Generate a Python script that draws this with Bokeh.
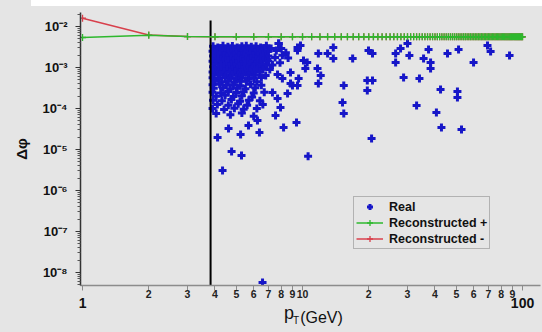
from bokeh.plotting import figure
from bokeh.models import (Range1d, FixedTicker, CustomJSTickFormatter, LogAxis,
                          Legend, LegendItem, GlobalInlineStyleSheet)
from bokeh.embed import file_html
from bokeh.resources import INLINE

# ---------------- data ----------------
pt_bins = [1, 2, 3, 4, 5, 6, 7, 8, 9, 10, 11, 12, 13, 14, 15, 16, 17, 18, 19, 20,
           21, 22, 23, 24, 25, 26, 27, 28, 29, 30, 31, 32, 33, 34, 35, 36, 37, 38, 39, 40,
           41, 42, 43, 44, 45, 46, 47, 48, 49, 50, 51, 52, 53, 54, 55, 56, 57, 58, 59, 60,
           61, 62, 63, 64, 65, 66, 67, 68, 69, 70, 71, 72, 73, 74, 75, 76, 77, 78, 79, 80,
           81, 82, 83, 84, 85, 86, 87, 88, 89, 90, 91, 92, 93, 94, 95, 96, 97, 98, 99, 100]

reco_plus = [5.4e-3, 6.1e-3, 5.7e-3, 5.6e-3, 5.6e-3, 5.6e-3, 5.6e-3, 5.6e-3, 5.6e-3, 5.6e-3,
             5.6e-3, 5.6e-3, 5.6e-3, 5.6e-3, 5.6e-3, 5.6e-3, 5.6e-3, 5.6e-3, 5.6e-3, 5.6e-3,
             5.6e-3, 5.6e-3, 5.6e-3, 5.6e-3, 5.6e-3, 5.6e-3, 5.6e-3, 5.6e-3, 5.6e-3, 5.6e-3,
             5.6e-3, 5.6e-3, 5.6e-3, 5.6e-3, 5.6e-3, 5.6e-3, 5.6e-3, 5.6e-3, 5.6e-3, 5.6e-3,
             5.6e-3, 5.6e-3, 5.6e-3, 5.6e-3, 5.6e-3, 5.6e-3, 5.6e-3, 5.6e-3, 5.6e-3, 5.6e-3,
             5.6e-3, 5.6e-3, 5.6e-3, 5.6e-3, 5.6e-3, 5.6e-3, 5.6e-3, 5.6e-3, 5.6e-3, 5.6e-3,
             5.6e-3, 5.6e-3, 5.6e-3, 5.6e-3, 5.6e-3, 5.6e-3, 5.6e-3, 5.6e-3, 5.6e-3, 5.6e-3,
             5.6e-3, 5.6e-3, 5.6e-3, 5.6e-3, 5.6e-3, 5.6e-3, 5.6e-3, 5.6e-3, 5.6e-3, 5.6e-3,
             5.6e-3, 5.6e-3, 5.6e-3, 5.6e-3, 5.6e-3, 5.6e-3, 5.6e-3, 5.6e-3, 5.6e-3, 5.6e-3,
             5.6e-3, 5.6e-3, 5.6e-3, 5.6e-3, 5.6e-3, 5.6e-3, 5.6e-3, 5.6e-3, 5.6e-3, 5.6e-3]

reco_minus = [1.6e-2, 6.2e-3, 5.7e-3, 5.6e-3, 5.6e-3, 5.6e-3, 5.6e-3, 5.6e-3, 5.6e-3, 5.6e-3,
              5.6e-3, 5.6e-3, 5.6e-3, 5.6e-3, 5.6e-3, 5.6e-3, 5.6e-3, 5.6e-3, 5.6e-3, 5.6e-3,
              5.6e-3, 5.6e-3, 5.6e-3, 5.6e-3, 5.6e-3, 5.6e-3, 5.6e-3, 5.6e-3, 5.6e-3, 5.6e-3,
              5.6e-3, 5.6e-3, 5.6e-3, 5.6e-3, 5.6e-3, 5.6e-3, 5.6e-3, 5.6e-3, 5.6e-3, 5.6e-3,
              5.6e-3, 5.6e-3, 5.6e-3, 5.6e-3, 5.6e-3, 5.6e-3, 5.6e-3, 5.6e-3, 5.6e-3, 5.6e-3,
              5.6e-3, 5.6e-3, 5.6e-3, 5.6e-3, 5.6e-3, 5.6e-3, 5.6e-3, 5.6e-3, 5.6e-3, 5.6e-3,
              5.6e-3, 5.6e-3, 5.6e-3, 5.6e-3, 5.6e-3, 5.6e-3, 5.6e-3, 5.6e-3, 5.6e-3, 5.6e-3,
              5.6e-3, 5.6e-3, 5.6e-3, 5.6e-3, 5.6e-3, 5.6e-3, 5.6e-3, 5.6e-3, 5.6e-3, 5.6e-3,
              5.6e-3, 5.6e-3, 5.6e-3, 5.6e-3, 5.6e-3, 5.6e-3, 5.6e-3, 5.6e-3, 5.6e-3, 5.6e-3,
              5.6e-3, 5.6e-3, 5.6e-3, 5.6e-3, 5.6e-3, 5.6e-3, 5.6e-3, 5.6e-3, 5.6e-3, 5.6e-3]

# "Real" points (pT in GeV, delta-phi), read row by row
real_pt = [
    # dense core
    3.92, 4.12, 4.35, 4.58, 4.80, 5.05, 5.30, 5.55, 5.85, 6.15, 6.45, 6.85, 7.8,
    4.0, 4.25, 4.48, 4.7, 4.95, 5.2, 5.45, 5.7, 6.0, 6.3, 6.65,
    3.9, 4.1, 4.33, 4.6, 4.85, 5.1, 5.35, 5.6, 5.9, 6.2, 6.55, 6.95,
    4.0, 4.22, 4.45, 4.72, 4.98, 5.25, 5.5, 5.78, 6.08, 6.4, 6.75,
    3.92, 4.15, 4.38, 4.62, 4.88, 5.15, 5.4, 5.68, 5.95, 6.3, 6.6, 7.0,
    4.02, 4.28, 4.52, 4.75, 5.0, 5.28, 5.55, 5.85, 6.15, 6.5, 6.9,
    3.9, 4.12, 4.35, 4.6, 4.85, 5.1, 5.38, 5.65, 5.95, 6.25, 6.6,
    4.0, 4.25, 4.5, 4.75, 5.0, 5.25, 5.5, 5.8, 6.1, 6.45, 6.85,
    3.92, 4.15, 4.4, 4.65, 4.9, 5.15, 5.42, 5.7, 6.0, 6.35, 6.7,
    4.0, 4.28, 4.55, 4.8, 5.05, 5.3, 5.6, 5.9, 6.2, 6.6,
    3.9, 4.12, 4.4, 4.68, 4.95, 5.2, 5.5, 5.8, 6.4,
    3.95, 4.22, 4.5, 4.8, 5.1, 5.35, 5.7, 6.1, 6.8,
    3.9, 4.15, 4.45, 4.7, 5.0, 5.3, 5.65, 6.0, 6.5,
    4.0, 4.3, 4.6, 4.9, 5.25, 5.55, 6.2,
    3.9, 4.2, 4.5, 4.85, 5.2, 5.8, 6.5,
    3.95, 4.35, 4.7, 5.05, 5.5, 6.1,
    3.9, 4.25, 4.6, 5.0, 5.4, 6.0, 6.7,
    4.05, 4.45, 4.85, 5.3, 5.9,
    3.92, 4.3, 4.75, 5.2, 5.7, 6.4,
    4.1, 4.6, 5.1, 5.6, 6.6,
    3.9, 4.4, 4.9, 5.4, 6.2,
    4.05, 4.7, 5.3, 6.0, 6.24,
    # right edge of the core
    7.2, 7.6, 8.0, 8.4, 7.0, 7.5, 8.1, 7.3, 7.9, 8.6, 7.1, 7.7,
    # scattered, 7-21 GeV
    7.78, 9.49, 11.8, 13.0, 13.8, 13.8, 16.9, 19.95, 20.8, 10.5, 10.3, 11.7, 12.1,
    11.8, 9.49, 8.82, 8.55, 7.7, 7.94, 15.4, 19.7, 20.8, 19.7, 15.2, 15.4,
    9.79, 9.49, 10.1, 9.0, 9.6, 8.1, 8.82, 7.3,
    # scattered, 25-90 GeV
    26.5, 26.5, 27.9, 30.0, 30.6, 35.5, 37.4, 38.2, 38.2, 45.6, 51.2, 59.9,
    69.3, 71.6, 87.3, 28.8, 34.0, 42.4, 50.6, 50.6, 33.0, 40.6, 42.8, 52.8,
    # low tail
    4.11, 4.76, 5.28, 4.33, 10.6, 20.6, 5.23, 6.37, 8.2, 9.39, 7.54, 4.61,
    6.58, 5.68,
]
real_dphi = [
    3.3e-3, 3.1e-3, 3.4e-3, 3.2e-3, 3.35e-3, 3.1e-3, 3.3e-3, 3.4e-3, 3.2e-3, 3.3e-3, 3.1e-3, 3.4e-3, 3.85e-3,
    2.85e-3, 2.95e-3, 2.8e-3, 2.9e-3, 2.8e-3, 2.95e-3, 2.85e-3, 2.75e-3, 2.9e-3, 2.8e-3, 2.95e-3,
    2.5e-3, 2.6e-3, 2.45e-3, 2.55e-3, 2.6e-3, 2.45e-3, 2.55e-3, 2.6e-3, 2.4e-3, 2.6e-3, 2.5e-3, 2.45e-3,
    2.2e-3, 2.25e-3, 2.15e-3, 2.2e-3, 2.3e-3, 2.15e-3, 2.25e-3, 2.2e-3, 2.3e-3, 2.15e-3, 2.2e-3,
    1.9e-3, 1.85e-3, 1.95e-3, 1.9e-3, 1.85e-3, 1.95e-3, 1.9e-3, 1.8e-3, 1.95e-3, 1.9e-3, 1.85e-3, 1.9e-3,
    1.65e-3, 1.6e-3, 1.7e-3, 1.62e-3, 1.68e-3, 1.6e-3, 1.7e-3, 1.65e-3, 1.6e-3, 1.7e-3, 1.62e-3,
    1.42e-3, 1.45e-3, 1.4e-3, 1.46e-3, 1.4e-3, 1.44e-3, 1.38e-3, 1.45e-3, 1.42e-3, 1.4e-3, 1.45e-3,
    1.22e-3, 1.2e-3, 1.25e-3, 1.2e-3, 1.24e-3, 1.18e-3, 1.22e-3, 1.25e-3, 1.2e-3, 1.22e-3, 1.18e-3,
    1.05e-3, 1.02e-3, 1.06e-3, 1.04e-3, 1.0e-3, 1.06e-3, 1.03e-3, 1.0e-3, 1.05e-3, 1.02e-3, 1.06e-3,
    9.0e-4, 9.2e-4, 8.9e-4, 9.1e-4, 9.0e-4, 8.8e-4, 9.2e-4, 9.0e-4, 8.9e-4, 9.1e-4,
    7.8e-4, 7.6e-4, 7.9e-4, 7.7e-4, 7.9e-4, 7.5e-4, 7.8e-4, 7.6e-4, 7.8e-4,
    6.6e-4, 6.8e-4, 6.5e-4, 6.7e-4, 6.4e-4, 6.8e-4, 6.5e-4, 6.6e-4, 6.4e-4,
    5.6e-4, 5.4e-4, 5.7e-4, 5.5e-4, 5.4e-4, 5.6e-4, 5.3e-4, 5.5e-4, 5.7e-4,
    4.6e-4, 4.5e-4, 4.7e-4, 4.4e-4, 4.6e-4, 4.7e-4, 4.5e-4,
    3.8e-4, 3.9e-4, 3.7e-4, 3.8e-4, 3.6e-4, 3.9e-4, 3.7e-4,
    3.1e-4, 3.2e-4, 3.0e-4, 3.15e-4, 3.05e-4, 3.2e-4,
    2.5e-4, 2.4e-4, 2.6e-4, 2.45e-4, 2.55e-4, 2.4e-4, 2.5e-4,
    2.0e-4, 2.1e-4, 1.95e-4, 2.05e-4, 1.9e-4,
    1.6e-4, 1.55e-4, 1.65e-4, 1.5e-4, 1.6e-4, 1.55e-4,
    1.25e-4, 1.2e-4, 1.3e-4, 1.2e-4, 1.25e-4,
    1.0e-4, 9.5e-5, 1.02e-4, 9.6e-5, 1.0e-4,
    7.5e-5, 7.0e-5, 7.8e-5, 6.5e-5, 5.1e-5,
    2.9e-3, 2.6e-3, 2.9e-3, 2.3e-3, 1.45e-3, 1.75e-3, 2.0e-3, 1.15e-3, 1.3e-3, 1.7e-3, 9.0e-4, 6.8e-4,
    3.85e-3, 3.08e-3, 2.19e-3, 2.19e-3, 3.08e-3, 1.66e-3, 1.66e-3, 2.6e-3, 2.19e-3, 1.32e-3, 9.5e-4, 9.5e-4, 6.4e-4,
    4.07e-4, 3.64e-4, 4.07e-4, 2.32e-4, 1.75e-4, 1.06e-4, 3.64e-4, 4.82e-4, 4.82e-4, 2.75e-4, 1.4e-4, 7.55e-5,
    3.44e-3, 2.6e-3, 1.48e-3, 3.64e-4, 5.4e-4, 5.4e-4, 7.55e-4, 2.46e-4,
    2.19e-3, 1.32e-3, 2.9e-3, 3.85e-3, 1.96e-3, 1.66e-3, 2.75e-3, 1.32e-3, 9.5e-4, 2.19e-3, 2.75e-3, 1.32e-3,
    3.44e-3, 2.46e-3, 1.96e-3, 5.7e-4, 5.4e-4, 2.9e-4, 2.6e-4, 1.86e-4, 1.18e-4, 8.0e-5, 3.44e-5, 3.08e-5,
    1.96e-5, 8.9e-6, 7.1e-6, 3.08e-6, 6.8e-6, 1.86e-5, 2.32e-5, 2.6e-5, 3.44e-5, 4.56e-5, 6.76e-5, 3.25e-5,
    5.7e-9, 3.85e-5,
]

# pT threshold marker (vertical line)
cut_pt = [3.82, 3.82]
cut_dphi = [4.8e-9, 1.4e-2]

# x axis title pieces: p, T (subscript), (GeV), centred at these pT positions
title_text = ["p", "T", "(GeV)"]
title_pt = [8.68, 9.34, 12.2]

# axis ticks
x_ticks = [1, 2, 3, 4, 5, 6, 7, 8, 9, 10, 20, 30, 40, 50, 60, 70, 80, 90, 100]
x_big_labels = [1, 100]
y_decades = [1e-8, 1e-7, 1e-6, 1e-5, 1e-4, 1e-3, 1e-2]

# ---------------- style ----------------
BG = "#e5e5e5"
BLUE = "#1616c8"
GREEN = "#2eb82e"
RED = "#d8404c"
FONT = "Liberation Sans"

p = figure(width=542, height=326, x_axis_type="log", y_axis_type="log",
           x_range=Range1d(0.979, 120.7), y_range=Range1d(4.8e-9, 2.2e-2),
           output_backend="svg", toolbar_location=None,
           min_border_left=80, min_border_right=2, min_border_top=6, min_border_bottom=47,
           background_fill_color=BG, border_fill_color=BG, outline_line_color=None)
p.margin = (6, 0, 0, 0)
p.grid.visible = False
p.stylesheets = [GlobalInlineStyleSheet(css=(
    "html, body{background: linear-gradient(to right, " + BG + " 31px, #ffffff 31px) 0 0/100% 6px no-repeat, "
    + BG + " !important;}"))]

# x axis: digit labels (and "10")
xa = p.xaxis[0]
xa.ticker = FixedTicker(ticks=x_ticks, minor_ticks=[])
xa.formatter = CustomJSTickFormatter(code="""
const e = Math.floor(Math.log10(tick) + 1e-9);
const m = Math.round(tick / Math.pow(10, e));
if (m == 1) { return e == 1 ? '10' : ''; }
return String(m);
""")
xa.axis_line_color = "#8c8c8c"
xa.axis_line_width = 1.5
xa.major_tick_line_color = "#8c8c8c"
xa.major_tick_out = 5
xa.major_tick_in = 0
xa.major_label_standoff = -1
xa.major_label_text_font = FONT
xa.major_label_text_font_style = "bold"
xa.major_label_text_font_size = "10.5px"
xa.major_label_text_color = "#222222"

# second x axis with the big "1" and "100" labels
xa2 = LogAxis(ticker=FixedTicker(ticks=x_big_labels, minor_ticks=[]),
              formatter=CustomJSTickFormatter(code="return String(Math.round(tick));"),
              axis_line_color=None, major_tick_line_color=None, minor_tick_line_color=None,
              major_label_standoff=-9, major_label_text_font=FONT,
              major_label_text_font_style="bold", major_label_text_font_size="14px",
              major_label_text_color="#111111")
p.add_layout(xa2, "below")

# axis title p_T(GeV), built from three tick-less axes so that T sits as a subscript
for txt, xv, fs, so in zip(title_text, title_pt, ["18px", "10px", "16px"], [-8, -11, -20]):
    ax = LogAxis(ticker=FixedTicker(ticks=[xv], minor_ticks=[]),
                 formatter=CustomJSTickFormatter(args=dict(txt=txt), code="return txt;"),
                 axis_line_color=None, major_tick_line_color=None, minor_tick_line_color=None,
                 major_tick_out=0, major_tick_in=0,
                 major_label_standoff=so, major_label_text_font=FONT,
                 major_label_text_font_size=fs, major_label_text_color="#111111")
    p.add_layout(ax, "below")

# y axis
ya = p.yaxis[0]
minor_y = [m * d for d in [1e-9, 1e-8, 1e-7, 1e-6, 1e-5, 1e-4, 1e-3, 1e-2] for m in range(2, 10)]
ya.ticker = FixedTicker(ticks=y_decades, minor_ticks=minor_y)
ya.formatter = CustomJSTickFormatter(code=r"""
const e = Math.round(Math.log10(tick));
const sup = {'-':'\u207b','0':'\u2070','1':'\u00b9','2':'\u00b2','3':'\u00b3','4':'\u2074',
             '5':'\u2075','6':'\u2076','7':'\u2077','8':'\u2078','9':'\u2079'};
return '10' + String(e).split('').map(c => sup[c]).join('');
""")
ya.axis_line_color = "#333333"
ya.axis_line_width = 1.5
ya.major_tick_line_color = "#333333"
ya.minor_tick_line_color = "#555555"
ya.major_tick_out = 5
ya.major_tick_in = 0
ya.minor_tick_out = 3
ya.minor_tick_in = 0
ya.major_label_standoff = 8
ya.major_label_text_font = FONT
ya.major_label_text_font_style = "bold"
ya.major_label_text_font_size = "13px"
ya.major_label_text_color = "#111111"
ya.axis_label = "Δφ"
ya.axis_label_text_font = FONT
ya.axis_label_text_font_style = "bold"
ya.axis_label_text_font_size = "15px"
ya.axis_label_text_color = "#111111"
ya.axis_label_standoff = 10

# glyphs
r_real = p.scatter(real_pt, real_dphi, marker="cross", size=8, line_width=3, line_color=BLUE)
p.line(cut_pt, cut_dphi, line_color="black", line_width=2)
r_ml = p.line(pt_bins, reco_minus, line_color=RED, line_width=1.5)
r_mm = p.scatter(pt_bins, reco_minus, marker="cross", size=7, line_color=RED, line_width=1.3)
r_pl = p.line(pt_bins, reco_plus, line_color=GREEN, line_width=1.5)
r_pm = p.scatter(pt_bins, reco_plus, marker="cross", size=7, line_color=GREEN, line_width=1.3)

legend = Legend(items=[LegendItem(label="Real", renderers=[r_real]),
                       LegendItem(label="Reconstructed +", renderers=[r_pl, r_pm]),
                       LegendItem(label="Reconstructed -", renderers=[r_ml, r_mm])],
                location=(273, 36), background_fill_color=BG, background_fill_alpha=1.0,
                border_line_color="#808080", border_line_width=1.5,
                label_text_font=FONT, label_text_font_style="bold",
                label_text_font_size="12.5px", label_text_color="#111111",
                label_height=15, glyph_height=15, glyph_width=27, label_standoff=6,
                spacing=1, padding=2, margin=0)
p.add_layout(legend)

open("out.html", "w").write(file_html(p, INLINE))
